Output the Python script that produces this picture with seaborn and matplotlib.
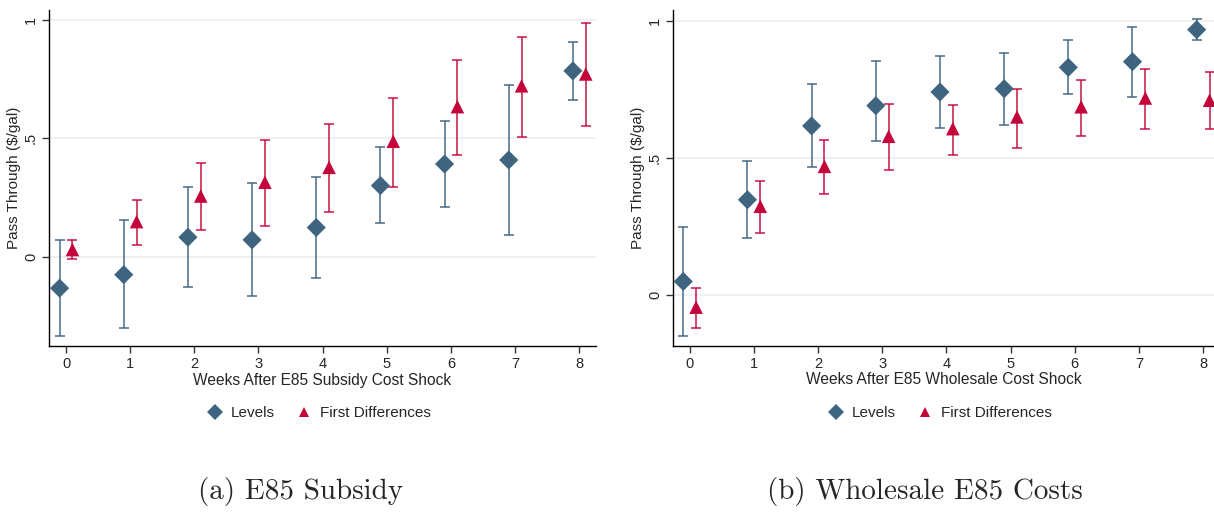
import numpy as np
import pandas as pd
import matplotlib
matplotlib.use("Agg")
import matplotlib.pyplot as plt
import seaborn as sns

weeks = [0, 1, 2, 3, 4, 5, 6, 7, 8]

# (a) E85 subsidy
sub_lev = [-0.132, -0.075, 0.083, 0.072, 0.124, 0.301, 0.392, 0.409, 0.785]
sub_lev_lo = [-0.333, -0.302, -0.127, -0.166, -0.087, 0.141, 0.211, 0.093, 0.661]
sub_lev_hi = [0.072, 0.156, 0.294, 0.312, 0.338, 0.463, 0.574, 0.726, 0.908]
sub_fd = [0.031, 0.149, 0.257, 0.315, 0.378, 0.488, 0.634, 0.722, 0.772]
sub_fd_lo = [-0.010, 0.051, 0.114, 0.129, 0.189, 0.294, 0.432, 0.508, 0.553]
sub_fd_hi = [0.072, 0.241, 0.397, 0.494, 0.562, 0.672, 0.830, 0.928, 0.986]

# (b) wholesale E85 costs
whl_lev = [0.048, 0.347, 0.617, 0.691, 0.741, 0.753, 0.831, 0.852, 0.969]
whl_lev_lo = [-0.151, 0.207, 0.466, 0.561, 0.610, 0.621, 0.732, 0.722, 0.933]
whl_lev_hi = [0.246, 0.489, 0.769, 0.856, 0.873, 0.883, 0.931, 0.979, 1.007]
whl_fd = [-0.046, 0.323, 0.469, 0.579, 0.607, 0.650, 0.687, 0.719, 0.711]
whl_fd_lo = [-0.123, 0.224, 0.367, 0.454, 0.510, 0.538, 0.579, 0.604, 0.604]
whl_fd_hi = [0.023, 0.417, 0.565, 0.698, 0.695, 0.752, 0.785, 0.826, 0.816]

xlabels = ["Weeks After E85 Subsidy Cost Shock", "Weeks After E85 Wholesale Cost Shock"]
captions = ["(a) E85 Subsidy", "(b) Wholesale E85 Costs"]
caption_x = [301 / 1214, 925 / 1214]

BLUE = "#3e6480"
RED = "#c4053b"

sns.set_theme(style="white")
plt.rcParams["font.family"] = ["Liberation Sans", "DejaVu Sans"]

fig = plt.figure(figsize=(12.14, 5.12), dpi=100)
ax1 = fig.add_axes([49 / 1214, 166 / 512, 547 / 1214, 336 / 512])
ax2 = fig.add_axes([673 / 1214, 166 / 512, 541 / 1214, 336 / 512])

panels = [
    (ax1, sub_lev, sub_lev_lo, sub_lev_hi, sub_fd, sub_fd_lo, sub_fd_hi, (-0.376, 1.042), (-0.265, 8.26)),
    (ax2, whl_lev, whl_lev_lo, whl_lev_hi, whl_fd, whl_fd_lo, whl_fd_hi, (-0.188, 1.041), (-0.26, 8.17)),
]

for i, (ax, lev, lev_lo, lev_hi, fd, fd_lo, fd_hi, ylim, xlim) in enumerate(panels):
    df = pd.DataFrame({
        "week": weeks * 2,
        "pt": lev + fd,
        "lo": lev_lo + fd_lo,
        "hi": lev_hi + fd_hi,
        "series": ["Levels"] * 9 + ["First Differences"] * 9,
    })
    df["x"] = df["week"] + np.where(df["series"] == "Levels", -0.1, 0.1)

    for name, col in [("Levels", BLUE), ("First Differences", RED)]:
        d = df[df["series"] == name]
        ax.errorbar(d["x"], d["pt"], yerr=[d["pt"] - d["lo"], d["hi"] - d["pt"]],
                    fmt="none", ecolor=col, alpha=0.8, elinewidth=1.3,
                    capsize=3.5, capthick=1.3, zorder=2)

    sns.scatterplot(data=df, x="x", y="pt", hue="series", style="series",
                    palette={"Levels": BLUE, "First Differences": RED},
                    markers={"Levels": "D", "First Differences": "^"},
                    s=95, linewidth=0, ax=ax, zorder=3)

    ax.set_xlim(*xlim)
    ax.set_ylim(*ylim)
    ax.set_xticks(weeks)
    ax.set_yticks([0, 0.5, 1])
    ax.set_yticklabels(["0", ".5", "1"], rotation=90, va="center")
    ax.yaxis.grid(True, color="#eeeeee", linewidth=1.2)
    ax.set_axisbelow(True)
    for s in ["top", "right"]:
        ax.spines[s].set_visible(False)
    for s in ["left", "bottom"]:
        ax.spines[s].set_color("black")
        ax.spines[s].set_linewidth(1.0)
    ax.tick_params(axis="both", which="both", length=5, width=1, color="#333333",
                   labelsize=10.5, bottom=True, left=True, pad=3)
    ax.set_xlabel(xlabels[i], fontsize=11.2, labelpad=1)
    ax.set_ylabel("Pass Through ($/gal)", fontsize=11, labelpad=2)

    handles, labels = ax.get_legend_handles_labels()
    ax.legend(handles, labels, loc="center", bbox_to_anchor=(0.487, -0.2),
              ncol=2, frameon=False, fontsize=11, handletextpad=0.05,
              columnspacing=0.9, markerscale=0.8)

    fig.text(caption_x[i], 20 / 512, captions[i],
             ha="center", va="center", fontsize=21, family="cmr10")

fig.savefig("out.png", dpi=100)
